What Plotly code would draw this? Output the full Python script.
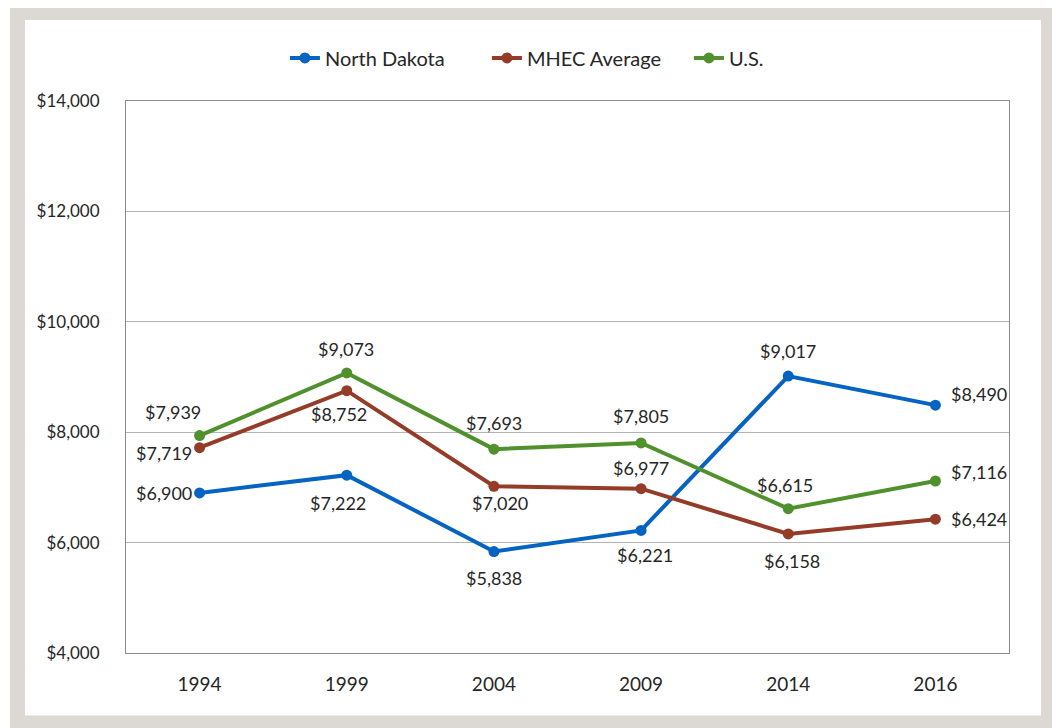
import plotly.graph_objects as go

years = ["1994", "1999", "2004", "2009", "2014", "2016"]
north_dakota = [6900, 7222, 5838, 6221, 9017, 8490]
mhec_average = [7719, 8752, 7020, 6977, 6158, 6424]
us = [7939, 9073, 7693, 7805, 6615, 7116]

# label offsets in pixels (dx, dy)
nd_offsets = [(-36, 0), (-9, 28), (0, 26), (4, 25), (0, -25), (44, -11)]
mhec_offsets = [(-36, 5), (-8, 23), (6, 17), (0, -21), (4, 27), (44, 0)]
us_offsets = [(-27, -24), (-1, -24), (0, -26), (0, -27), (-3, -24), (44, -9)]

FONT = "Lato"
TXT = "#262626"

fig = go.Figure()
series = [
    ("North Dakota", north_dakota, "#0563C1", nd_offsets),
    ("MHEC Average", mhec_average, "#943C28", mhec_offsets),
    ("U.S.", us, "#50912D", us_offsets),
]
for name, vals, color, offs in series:
    fig.add_trace(go.Scatter(
        x=years, y=vals, name=name, mode="lines+markers",
        line=dict(color=color, width=4),
        marker=dict(color=color, size=11),
    ))
    for i, (v, (dx, dy)) in enumerate(zip(vals, offs)):
        fig.add_annotation(
            x=i, y=v, xref="x", yref="y",
            text="${:,}".format(v), showarrow=False,
            xshift=dx, yshift=-dy,
            font=dict(family=FONT, size=18, color=TXT),
        )

# gray frame around the figure
fig.add_shape(type="rect", xref="paper", yref="paper",
              x0=-0.1229, x1=1.0447, y0=-0.1268, y1=1.1603,
              line=dict(color="#dcd8d4", width=15), layer="below")

fig.update_layout(
    width=1052, height=720,
    margin=dict(l=118, r=51, t=93, b=75),
    paper_bgcolor="white", plot_bgcolor="white",
    font=dict(family=FONT, color=TXT),
    showlegend=True,
    legend=dict(orientation="h", x=0.180, xanchor="left", y=1.078, yanchor="middle",
                font=dict(family=FONT, size=20, color=TXT),
                entrywidth=157, entrywidthmode="pixels",
                traceorder="normal"),
    xaxis=dict(type="category", range=[-0.5, 5.5], showgrid=False,
               showline=True, mirror=True, linecolor="#8c8c8c", linewidth=1,
               ticks="", ticklabelstandoff=14,
               tickfont=dict(family=FONT, size=19, color=TXT)),
    yaxis=dict(range=[4000, 14000], dtick=2000, tickprefix="$", tickformat=",",
               showgrid=True, gridcolor="#b3b3b3", gridwidth=1,
               showline=True, mirror=True, linecolor="#8c8c8c", linewidth=1,
               zeroline=False, ticks="", ticklabelstandoff=22,
               tickfont=dict(family=FONT, size=17, color=TXT)),
)

fig.write_html("out.html")
